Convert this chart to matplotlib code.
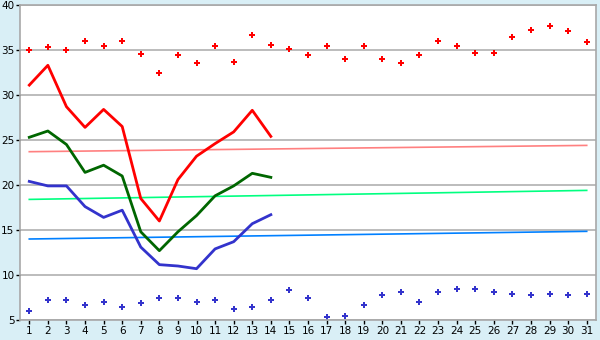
import numpy as np
import matplotlib.pyplot as plt

days = np.arange(1, 32)

# daily max / min points
max_pts = [35.0, 35.3, 35.0, 36.0, 35.4, 36.0, 34.6, 32.5, 34.4, 33.6,
           35.5, 33.7, 36.7, 35.6, 35.1, 34.4, 35.5, 34.0, 35.4, 34.0,
           33.6, 34.4, 36.0, 35.5, 34.7, 34.7, 36.4, 37.2, 37.7, 37.1, 35.9]
min_pts = [6.0, 7.2, 7.2, 6.7, 7.0, 6.5, 6.85, 7.4, 7.5, 7.0,
           7.2, 6.2, 6.5, 7.2, 8.3, 7.5, 5.3, 5.4, 6.7, 7.75,
           8.1, 7.0, 8.1, 8.5, 8.4, 8.1, 7.9, 7.75, 7.9, 7.75, 7.9]

# current month lines (days 1-14)
cur_days = np.arange(1, 15)
cur_max = [31.1, 33.3, 28.7, 26.4, 28.4, 26.5, 18.5, 16.0, 20.6, 23.2,
           24.6, 25.9, 28.3, 25.4]
cur_avg = [25.3, 26.0, 24.5, 21.4, 22.2, 21.0, 14.8, 12.7, 14.8, 16.6,
           18.8, 19.9, 21.3, 20.85]
cur_min = [20.4, 19.9, 19.9, 17.6, 16.4, 17.2, 13.1, 11.15, 11.0, 10.7,
           12.9, 13.7, 15.7, 16.7]

# normal (climate) lines, start and end values
norm_days = [1, 31]
norm_max = [23.7, 24.4]
norm_avg = [18.4, 19.4]
norm_min = [14.0, 14.85]

fig = plt.figure(figsize=(6, 3.4), dpi=100, facecolor='#d9eff6')
ax = fig.add_axes([20/600, 20/340, 576/600, 315/340])
ax.set_facecolor('white')

ax.set_ylim(5, 40)
ax.set_xlim(0.5, 31.5)
ax.set_yticks(range(5, 41, 5))
ax.set_xticks(days)
ax.grid(axis='y', color='#b0b0b0', linewidth=1.2)
ax.set_axisbelow(True)
for s in ax.spines.values():
    s.set_color('#a8a8a8')
    s.set_linewidth(1.2)
ax.tick_params(colors='black', labelsize=7.5, length=3, width=1, pad=1)

ax.plot(norm_days, norm_max, color='#ff8080', lw=1.2)
ax.plot(norm_days, norm_avg, color='#00ff80', lw=1.2)
ax.plot(norm_days, norm_min, color='#0080ff', lw=1.2)

ax.plot(cur_days, cur_max, color='#ff0000', lw=2)
ax.plot(cur_days, cur_avg, color='#006600', lw=2)
ax.plot(cur_days, cur_min, color='#3333cc', lw=2)

ax.plot(days, max_pts, 'P', color='#ff0000', ms=5, mew=0, ls='none')
ax.plot(days, min_pts, 'P', color='#3333cc', ms=5, mew=0, ls='none')

fig.savefig('out.png', dpi=100, facecolor=fig.get_facecolor())
